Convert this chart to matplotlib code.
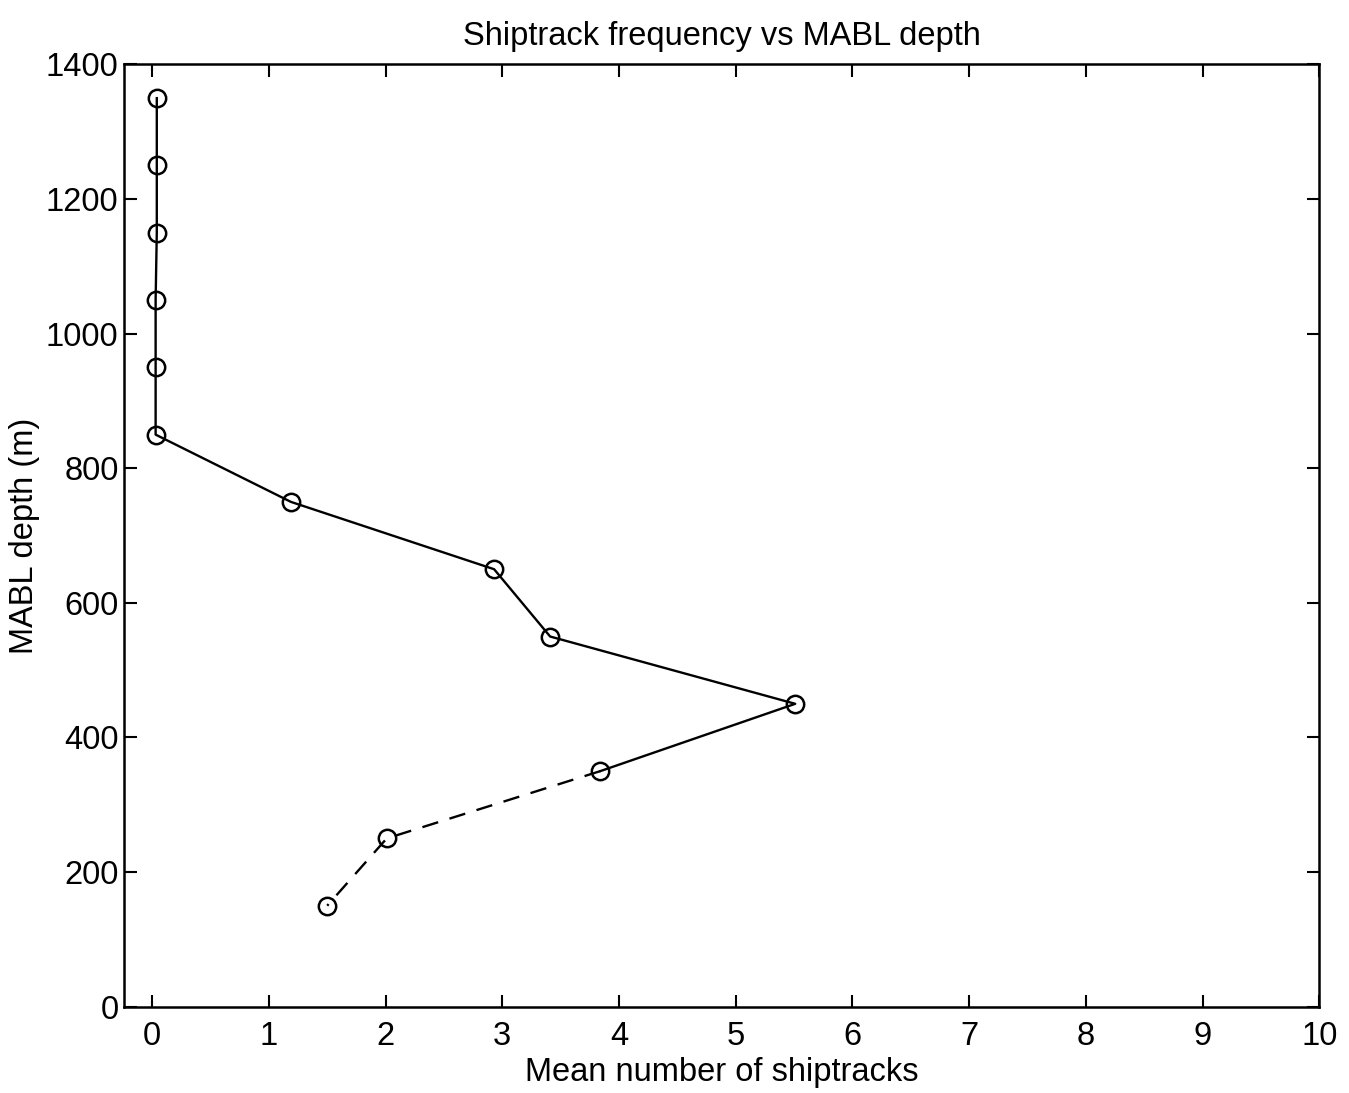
import matplotlib

matplotlib.use("Agg")
import matplotlib.pyplot as plt

# MABL depth bins (m) and mean number of shiptracks
depth = [1350, 1250, 1150, 1050, 950, 850, 750, 650, 550, 450, 350, 250, 150]
tracks = [0.04, 0.04, 0.04, 0.03, 0.03, 0.03, 1.19, 2.93, 3.41, 5.51, 3.84, 2.01, 1.50]
# index where the line switches from solid to dashed
n_solid = 11

x_ticks = list(range(0, 11))
y_ticks = list(range(0, 1401, 200))

plt.rcParams["font.family"] = ["Liberation Sans", "DejaVu Sans"]

fig = plt.figure(figsize=(13.49, 10.93), dpi=100)
ax = fig.add_axes([0.092, 0.079, 0.886, 0.862])

ax.plot(tracks[:n_solid], depth[:n_solid], color="black", lw=1.7, ls="-")
ax.plot(tracks[n_solid - 1:], depth[n_solid - 1:], color="black", lw=1.7,
        ls=(0, (7, 5)))
ax.plot(tracks, depth, ls="none", marker="o", ms=12.5, mfc="none",
        mec="black", mew=1.8)

ax.set_xlim(-0.24, 10)
ax.set_ylim(0, 1400)
ax.set_xticks(x_ticks)
ax.set_yticks(y_ticks)
ax.tick_params(direction="in", length=9, width=1.5, top=True, right=True,
               labelsize=23.5)
ax.tick_params(axis="x", pad=10)
ax.tick_params(axis="y", pad=4)
for s in ax.spines.values():
    s.set_linewidth(1.8)

ax.set_title("Shiptrack frequency vs MABL depth", fontsize=23.5, pad=14)
ax.set_xlabel("Mean number of shiptracks", fontsize=23.5, labelpad=4)
ax.set_ylabel("MABL depth (m)", fontsize=23.5, labelpad=4)

fig.savefig("out.png", dpi=100)
